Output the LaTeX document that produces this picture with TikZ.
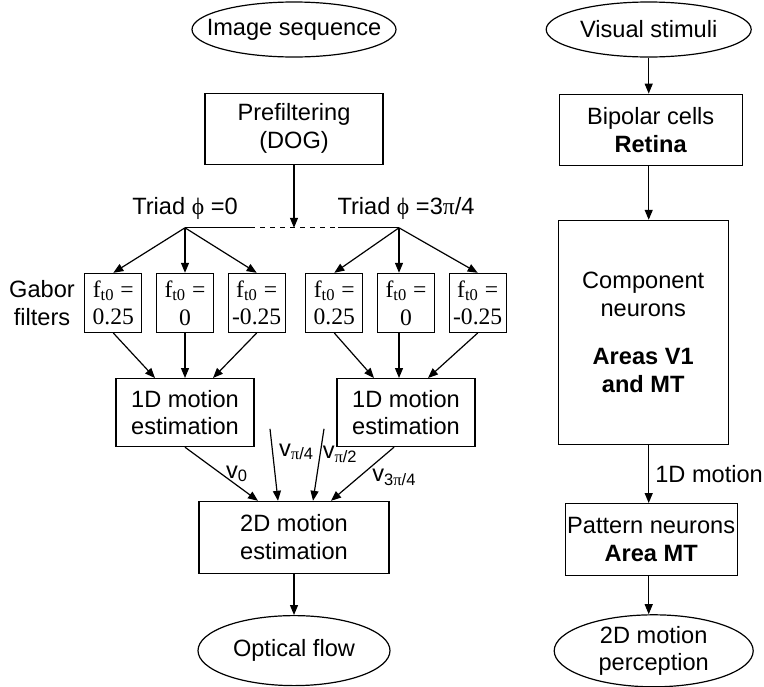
\documentclass[tikz,border=0pt]{standalone}
\usepackage{fontspec}
\setmainfont{Liberation Sans}
\newfontfamily\timesfont{Liberation Serif}
\usetikzlibrary{shapes.geometric, arrows.meta, positioning, calc}
\newcommand{\sizefont}{\fontsize{11.8pt}{13.9pt}\selectfont}
\tikzstyle{process} = [rectangle, draw=black, line width=0.6pt, inner sep=0pt, align=center, font=\sizefont]
\tikzstyle{io} = [ellipse, draw=black, line width=0.6pt, inner xsep=-8pt, inner ysep=0pt, align=center, font=\sizefont]
\tikzstyle{gabor} = [rectangle, draw=black, line width=0.6pt, inner sep=0pt, minimum width=28.5pt, minimum height=29.5pt, align=center, font=\timesfont\sizefont]
\tikzstyle{caption} = [inner sep=0pt, align=center, font=\sizefont]
\tikzstyle{vlabel} = [inner sep=0pt, font=\sizefont]
\tikzstyle{arrow} = [line width=0.6pt, ->, >={Triangle[length=5pt,width=4pt]}]

\begin{document}
\begin{tikzpicture}
\useasboundingbox (0,0) rectangle (382pt,-343pt);

% model
\node (img) [io, minimum width=102pt, minimum height=27.5pt] at (147pt,-14.75pt) {Image sequence};
\node (pre) [process, minimum width=89pt, minimum height=35.5pt, below=17.5pt of img] {Prefiltering\\(DOG)};

\coordinate (jL) at ($(pre.south)+(-54.5pt,-31.5pt)$);
\coordinate (jR) at ($(pre.south)+(52.5pt,-31.5pt)$);
\coordinate (dL) at ($(jL)+(32.5pt,0)$);
\coordinate (dR) at ($(jR)+(-30.5pt,0)$);
\draw [line width=0.6pt] (jL) -- (dL);
\draw [line width=0.6pt, dash pattern=on 2.5pt off 2.5pt] (dL) -- (dR);
\draw [line width=0.6pt] (dR) -- (jR);
\draw [arrow] (pre) -- (pre.south |- jL);

\node (triadL) [caption, above=4pt of jL] {Triad {\timesfont ϕ} =0};
\node (triadR) [caption, above=4pt of jR, xshift=3.5pt] {Triad {\timesfont ϕ} =3{\timesfont π}/4};

% gabor filters
\node (g2) [gabor, below=22.5pt of jL] {f\textsubscript{t0} =\\0};
\node (g1) [gabor, left=6.75pt of g2] {f\textsubscript{t0} =\\0.25};
\node (g3) [gabor, right=6.75pt of g2] {f\textsubscript{t0} =\\-0.25};
\node (g5) [gabor, below=22.5pt of jR, xshift=3.5pt] {f\textsubscript{t0} =\\0};
\node (g4) [gabor, left=6.75pt of g5] {f\textsubscript{t0} =\\0.25};
\node (g6) [gabor, right=6.75pt of g5] {f\textsubscript{t0} =\\-0.25};
\node (gablabel) [caption, left=4.5pt of g1] {Gabor\\filters};

\foreach \g in {g1,g2,g3}
  \draw [arrow] (jL) -- (\g.north);
\foreach \g in {g4,g6}
  \draw [arrow] (jR) -- (\g.north);
\draw [arrow] (jR) -- (jR |- g5.north);

% 1D motion
\node (m1) [process, minimum width=69pt, minimum height=34pt, below=22.5pt of g2] {1D motion\\estimation};
\node (m2) [process, minimum width=69pt, minimum height=34pt, below=22.5pt of g5] {1D motion\\estimation};

\draw [arrow] (g1.south) -- ($(m1.north)+(-15pt,0)$);
\draw [arrow] (g2) -- (m1);
\draw [arrow] (g3.south) -- ($(m1.north)+(14pt,0)$);
\draw [arrow] (g4.south) -- ($(m2.north)+(-16pt,0)$);
\draw [arrow] (jR |- g5.south) -- (jR |- m2.north);
\draw [arrow] (g6.south) -- ($(m2.north)+(11pt,0)$);

% 2D motion
\node (mm) [process, minimum width=95pt, minimum height=36pt, below=168pt of pre] {2D motion\\estimation};
\node (out) [io, minimum width=96pt, minimum height=35pt, below=20.5pt of mm] {Optical flow};
\coordinate (p4) at ($(mm.north)+(-12pt,36pt)$);
\coordinate (p5) at ($(mm.north)+(15pt,36pt)$);

\draw [arrow] (m1.south) -- node[vlabel, pos=.5, right=2pt] {v\textsubscript{0}} ($(mm.north)+(-18pt,0)$);
\draw [arrow] (p4) -- node[vlabel, pos=.32, right=3pt] {v\textsubscript{{\timesfont π}/4}} ($(mm.north)+(-8pt,0)$);
\draw [arrow] (p5) -- node[vlabel, pos=.35, right=1pt] {v\textsubscript{{\timesfont π}/2}} ($(mm.north)+(9.5pt,0)$);
\draw [arrow] ($(m2.south)+(-6pt,0)$) -- node[vlabel, pos=.4, anchor=north west, xshift=1.5pt] {v\textsubscript{3{\timesfont π}/4}} ($(mm.north)+(18.5pt,0)$);
\draw [arrow] (mm) -- (out);

% visual system
\node (vis) [io, minimum width=102.5pt, minimum height=27.5pt, right=74.5pt of img] {Visual stimuli};
\node (bip) [process, minimum width=91.5pt, minimum height=35.5pt, below=18pt of vis, xshift=1pt] {Bipolar cells\\\textbf{Retina}};
\node (comp) [process, minimum width=85pt, minimum height=112pt, below=27pt of bip, xshift=-3.75pt] {Component\\neurons\\[10pt]\textbf{Areas V1}\\\textbf{and MT}};
\node (pat) [process, minimum width=86pt, minimum height=36pt, below=29pt of comp, xshift=4pt] {Pattern neurons\\\textbf{Area MT}};
\node (perc) [io, minimum width=99.5pt, minimum height=36pt, below=19pt of pat, xshift=1.25pt] {2D motion\\perception};

\draw [arrow] (vis) -- (vis |- bip.north);
\draw [arrow] (vis |- bip.south) -- (vis |- comp.north);
\draw [arrow] (vis |- comp.south) -- node[caption, right=3pt] {1D motion} (vis |- pat.north);
\draw [arrow] (vis |- pat.south) -- (vis |- perc.north);

\end{tikzpicture}
\end{document}
